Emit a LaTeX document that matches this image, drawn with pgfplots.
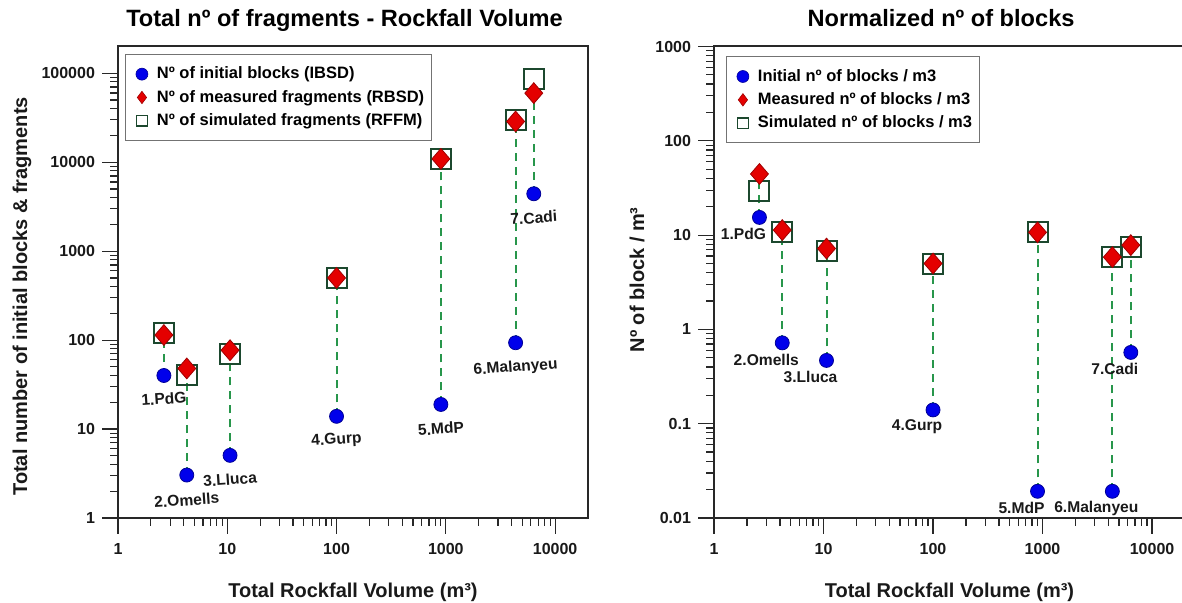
\documentclass[border=0pt]{standalone}
\usepackage{fontspec}
\setmainfont{Liberation Sans}
\usepackage{pgfplots}
\pgfplotsset{compat=1.18}
\definecolor{mblue}{RGB}{0,0,235}
\definecolor{mbluedk}{RGB}{0,0,150}
\definecolor{mred}{RGB}{228,0,0}
\definecolor{mreddk}{RGB}{160,0,0}
\definecolor{msq}{RGB}{28,72,46}
\definecolor{mdash}{RGB}{40,150,75}
\definecolor{axc}{RGB}{40,40,40}
\pgfplotsset{
  every axis/.append style={
    xmode=log, ymode=log, scale only axis,
    xmin=1, xmax=20000, clip=false,
    tick align=outside, xtick pos=bottom, ytick pos=left,
    major tick length=8pt, minor tick length=4pt,
    axis line style={line width=1pt, axc},
    every tick/.style={axc, line width=0.6pt},
    xtick={1,10,100,1000,10000}, xticklabels={1,10,100,1000,10000},
    ticklabel style={font=\fontsize{8}{9}\selectfont\bfseries, text=black!90},
    xticklabel style={yshift=-1pt},
    label style={font=\fontsize{10}{12}\selectfont\bfseries, text=black!90},
    every axis title shift=0pt,
    title style={font=\fontsize{11.8}{14}\selectfont\bfseries, at={(axis description cs:0.482,1.043)}, anchor=base, yshift=0pt},
    xlabel style={at={(axis description cs:0.5,-0.1676)}, anchor=base},
    legend cell align=left,
    legend style={draw=black!55, line width=0.5pt, fill=white,
      font=\fontsize{8.25}{10}\selectfont\bfseries, anchor=north west,
      inner xsep=2.2pt, inner ysep=4.4pt, row sep=0.87pt,
      nodes={inner sep=1.5pt, text height=6.2pt, text depth=1.6pt}},
  },
  dl/.style={mdash, dash pattern=on 4pt off 3pt, line width=1pt, forget plot},
  bc/.style={only marks, mark=*, mark size=3.5pt, mark options={fill=mblue, draw=mbluedk, line width=0.4pt}, forget plot},
  rd/.style={only marks, mark=diamond*, mark size=5.2pt, mark options={xscale=1.15, fill=mred, draw=mreddk, line width=0.4pt}, forget plot},
  sq/.style={only marks, mark=square, mark size=5pt, mark options={draw=msq, line width=1pt}, forget plot},
}
\tikzset{slab/.style={font=\fontsize{7.8}{9}\selectfont\bfseries, text=black!90, inner sep=0pt}}
\begin{document}
\begin{tikzpicture}
\useasboundingbox (0,0) rectangle (591pt,-301.5pt);
% ---------------- Left panel ----------------
\begin{axis}[
  at={(59pt,-259pt)}, anchor=south west,
  width=235pt, height=235.75pt,
  ymin=1, ymax=200000,
  ytick={1,10,100,1000,10000,100000}, yticklabels={1,10,100,1000,10000,100000},
  title={Total nº of fragments - Rockfall Volume},
  xlabel={Total Rockfall Volume (m³)},
  ylabel={Total number of initial blocks \& fragments},
  ylabel style={at={(axis description cs:-0.204,0.47)}, anchor=center},
  legend style={at={(axis description cs:0.015,0.984)}},
  legend image code/.code={\path[draw=none,fill=none] (0pt,0pt) -- (12pt,0pt); \draw[#1] plot coordinates {(6pt,0pt)};},
]
\addlegendimage{only marks, mark=*, mark size=3pt, mark options={fill=mblue, draw=mbluedk, line width=0.3pt}}
\addlegendentry{Nº of initial blocks (IBSD)}
\addlegendimage{only marks, mark=diamond*, mark size=3.1pt, mark options={fill=mred, draw=mreddk, line width=0.3pt}}
\addlegendentry{Nº of measured fragments (RBSD)}
\addlegendimage{only marks, mark=square, mark size=2.6pt, mark options={draw=msq, line width=0.6pt}}
\addlegendentry{Nº of simulated fragments (RFFM)}

\addplot[dl] coordinates {(2.63,40) (2.63,114)};
\addplot[dl] coordinates {(4.26,3.04) (4.26,48)};
\addplot[dl] coordinates {(10.6,5.06) (10.6,77)};
\addplot[dl] coordinates {(100,13.9) (100,500)};
\addplot[dl] coordinates {(901,18.9) (901,10900)};
\addplot[dl] coordinates {(4350,93.4) (4350,28700)};
\addplot[dl] coordinates {(6380,4420) (6380,59800)};

\addplot[sq] coordinates {(2.63,120) (4.26,40.7) (10.6,69) (100,505) (901,11000) (4350,30000) (6380,85600)};
\addplot[rd] coordinates {(2.63,114) (4.26,48) (10.6,77) (100,500) (901,10900) (4350,28700) (6380,59800)};
\addplot[bc] coordinates {(2.63,40) (4.26,3.04) (10.6,5.06) (100,13.9) (901,18.9) (4350,93.4) (6380,4420)};

\node[slab, yshift=-11.5pt, rotate=4] at (axis cs:2.63,40) {1.PdG};
\node[slab, yshift=-12.5pt, rotate=4] at (axis cs:4.26,3.04) {2.Omells};
\node[slab, yshift=-12pt, rotate=4] at (axis cs:10.6,5.06) {3.Lluca};
\node[slab, yshift=-12pt, rotate=4] at (axis cs:100,13.9) {4.Gurp};
\node[slab, yshift=-12pt, rotate=4] at (axis cs:901,18.9) {5.MdP};
\node[slab, yshift=-12.5pt, rotate=4] at (axis cs:4350,93.4) {6.Malanyeu};
\node[slab, yshift=-12pt, rotate=4] at (axis cs:6380,4420) {7.Cadi};
\end{axis}
% ---------------- Right panel ----------------
\begin{axis}[
  at={(357pt,-259pt)}, anchor=south west,
  width=235.5pt, height=235.75pt,
  ymin=0.01, ymax=1000,
  ytick={0.01,0.1,1,10,100,1000}, yticklabels={0.01,0.1,1,10,100,1000},
  title={Normalized nº of blocks},
  xlabel={Total Rockfall Volume (m³)},
  ylabel={Nº of block / m³},
  ylabel style={at={(axis description cs:-0.1635,0.505)}, anchor=center},
  legend style={at={(axis description cs:0.0255,0.979)}},
  legend image code/.code={\path[draw=none,fill=none] (0pt,0pt) -- (12pt,0pt); \draw[#1] plot coordinates {(6pt,0pt)};},
]
\addlegendimage{only marks, mark=*, mark size=3pt, mark options={fill=mblue, draw=mbluedk, line width=0.3pt}}
\addlegendentry{Initial nº of blocks / m3}
\addlegendimage{only marks, mark=diamond*, mark size=3.1pt, mark options={fill=mred, draw=mreddk, line width=0.3pt}}
\addlegendentry{Measured nº of blocks / m3}
\addlegendimage{only marks, mark=square, mark size=2.6pt, mark options={draw=msq, line width=0.6pt}}
\addlegendentry{Simulated nº of blocks / m3}

\addplot[dl] coordinates {(2.6,15.4) (2.6,44.5)};
\addplot[dl] coordinates {(4.2,0.72) (4.2,11.3)};
\addplot[dl] coordinates {(10.65,0.469) (10.65,7.2)};
\addplot[dl] coordinates {(100,0.14) (100,5.0)};
\addplot[dl] coordinates {(900,0.0192) (900,10.7)};
\addplot[dl] coordinates {(4340,0.0192) (4340,5.84)};
\addplot[dl] coordinates {(6400,0.57) (6400,7.83)};

\addplot[sq] coordinates {(2.6,29.1) (4.2,10.7) (10.65,6.76) (100,4.88) (900,10.7) (4340,5.8) (6400,7.46)};
\addplot[rd] coordinates {(2.6,44.5) (4.2,11.3) (10.65,7.2) (100,5.0) (900,10.7) (4340,5.84) (6400,7.83)};
\addplot[bc] coordinates {(2.6,15.4) (4.2,0.72) (10.65,0.469) (100,0.14) (900,0.0192) (4340,0.0192) (6400,0.57)};

\node[slab, xshift=-8pt, yshift=-8.5pt] at (axis cs:2.6,15.4) {1.PdG};
\node[slab, xshift=-8pt, yshift=-8.5pt] at (axis cs:4.2,0.72) {2.Omells};
\node[slab, xshift=-8pt, yshift=-8.5pt] at (axis cs:10.65,0.469) {3.Lluca};
\node[slab, xshift=-8pt, yshift=-8.5pt] at (axis cs:100,0.14) {4.Gurp};
\node[slab, xshift=-8pt, yshift=-8.5pt] at (axis cs:900,0.0192) {5.MdP};
\node[slab, xshift=-8pt, yshift=-8.5pt] at (axis cs:4340,0.0192) {6.Malanyeu};
\node[slab, xshift=-8pt, yshift=-8pt] at (axis cs:6400,0.57) {7.Cadi};
\end{axis}
\end{tikzpicture}
\end{document}
